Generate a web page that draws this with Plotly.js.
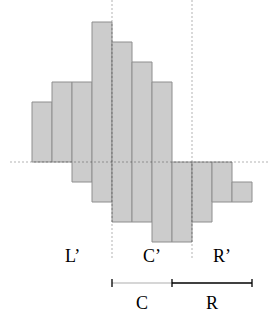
<!DOCTYPE html>
<html>
<head>
<meta charset="utf-8">
<script src="https://cdn.plot.ly/plotly-3.0.1.min.js"></script>
<style>html,body{margin:0;padding:0;background:#fff;}#chart{width:268px;height:318px;}</style>
</head>
<body>
<div id="chart"></div>
<script>
// bar index positions
var positions = [0, 1, 2, 3, 4, 5, 6, 7, 8, 9, 10];
// bar bottoms and tops (units)
var bottoms = [0, 0, -1, -2, -3, -3, -4, -4, -3, -2, -2];
var tops    = [3, 4, 4, 7, 6, 5, 4, 0, 0, 0, -1];
// upper region labels and their boundaries
var regionLabels = ["L’", "C’", "R’"];
var regionEdges = [-0.5, 3.5, 7.5, 10.5];
// lower bracket labels and their boundaries
var bracketLabels = ["C", "R"];
var bracketEdges = [3.5, 6.5, 10.5];
var bracketColors = ["#c8c8c8", "#000000"];

var heights = tops.map(function (t, i) { return t - bottoms[i]; });

var traces = [{
  type: 'bar',
  x: positions,
  y: heights,
  base: bottoms,
  width: 1,
  marker: {color: '#cccccc', line: {color: '#8e8e8e', width: 1}},
  hoverinfo: 'skip'
}];

var xr = [-2.1, 11.3], yr = [-7.8, 8.1];
var shapes = [];
var dotted = {color: 'rgba(0,0,0,0.3)', width: 1, dash: '2px,2px'};
// horizontal zero line
shapes.push({type: 'line', xref: 'x', yref: 'y', layer: 'above', x0: -1.6, x1: xr[1], y0: 0, y1: 0, line: dotted});
// vertical region dividers
for (var i = 1; i < regionEdges.length - 1; i++) {
  shapes.push({type: 'line', xref: 'x', yref: 'y', layer: 'above', x0: regionEdges[i], x1: regionEdges[i], y0: yr[1], y1: -4.9, line: dotted});
}
var annotations = [];
for (var j = 0; j < regionLabels.length; j++) {
  annotations.push({x: (regionEdges[j] + regionEdges[j + 1]) / 2, y: -4.7, xref: 'x', yref: 'y', text: regionLabels[j], showarrow: false,
    font: {family: 'Liberation Serif', size: 18, color: '#000'}});
}
// bracket
var by = -6.05, tk = 0.2;
for (var k = 0; k < bracketLabels.length; k++) {
  var a = bracketEdges[k], b = bracketEdges[k + 1];
  shapes.push({type: 'line', xref: 'x', yref: 'y', x0: a, x1: b, y0: by, y1: by, line: {color: bracketColors[k], width: 1.3}});
  annotations.push({x: (a + b) / 2, y: -7.05, xref: 'x', yref: 'y', text: bracketLabels[k], showarrow: false,
    font: {family: 'Liberation Serif', size: 18, color: '#000'}});
}
for (var m = 0; m < bracketEdges.length; m++) {
  shapes.push({type: 'line', xref: 'x', yref: 'y', x0: bracketEdges[m], x1: bracketEdges[m], y0: by - tk, y1: by + tk, line: {color: '#000', width: 1.3}});
}

var layout = {
  width: 268, height: 318,
  margin: {l: 0, r: 0, t: 0, b: 0},
  paper_bgcolor: '#fff', plot_bgcolor: '#fff',
  showlegend: false,
  xaxis: {range: xr, visible: false, fixedrange: true},
  yaxis: {range: yr, visible: false, fixedrange: true},
  shapes: shapes,
  annotations: annotations,
  bargap: 0
};
Plotly.newPlot('chart', traces, layout, {displayModeBar: false, staticPlot: true});
</script>
</body>
</html>
